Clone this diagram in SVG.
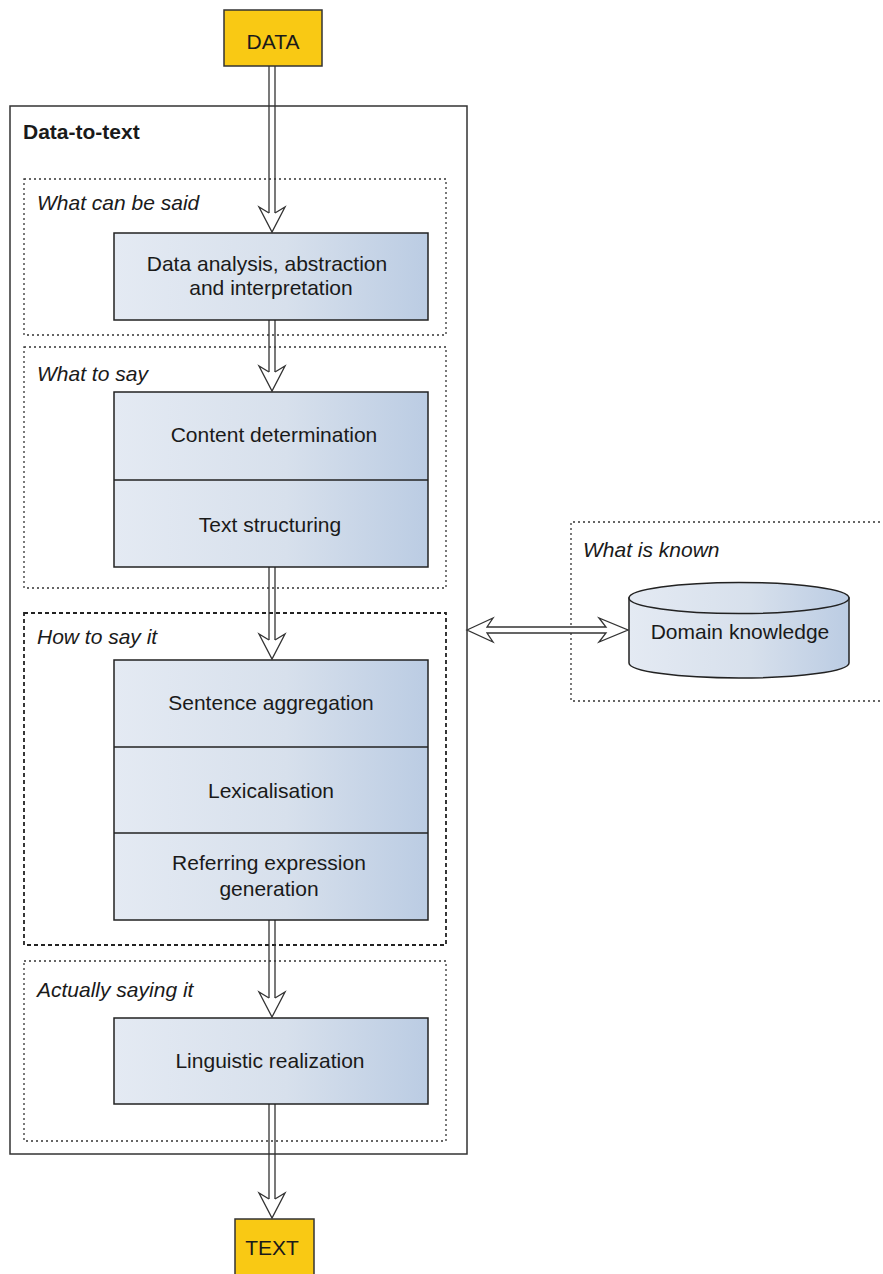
<svg xmlns="http://www.w3.org/2000/svg" width="883" height="1274" viewBox="0 0 883 1274">
<defs>
<linearGradient id="g" x1="0" y1="0" x2="1" y2="0">
<stop offset="0" stop-color="#e4eaf3"/>
<stop offset="0.55" stop-color="#d7e0ec"/>
<stop offset="1" stop-color="#bbcce3"/>
</linearGradient>
<style>
text{font-family:"Liberation Sans",Arial,sans-serif;font-size:21px;fill:#1a1a1a}
.c{text-anchor:middle}
.i{font-style:italic}
.b{font-weight:bold}
.box{fill:url(#g);stroke:#222;stroke-width:1.5}
.div{stroke:#222;stroke-width:1.5}
.term{fill:#f9c914;stroke:#333;stroke-width:1.5}
.dot{fill:none;stroke:#333;stroke-width:1.3;stroke-dasharray:2 3}
.dash{fill:none;stroke:#222;stroke-width:1.8;stroke-dasharray:4 3}
.sh{stroke:#333;stroke-width:1.3;fill:none}
.ah{fill:#fff;stroke:#333;stroke-width:1.3;stroke-linejoin:miter}
</style>
</defs>
<rect width="883" height="1274" fill="#fff"/>

<g id="outer">
<rect x="10" y="106" width="457" height="1048" fill="none" stroke="#333" stroke-width="1.5"/>
<text x="23" y="139" class="b">Data-to-text</text>
</g>

<g id="sec-said">
<rect x="24" y="179" width="422" height="156" class="dot"/>
<text x="37" y="210" class="i">What can be said</text>
</g>
<g id="sec-what">
<rect x="24" y="347" width="422" height="241" class="dot"/>
<text x="37" y="381" class="i">What to say</text>
</g>
<g id="sec-how">
<rect x="24" y="613" width="422" height="332" class="dash"/>
<text x="37" y="644" class="i">How to say it</text>
</g>
<g id="sec-actually">
<rect x="24" y="961" width="422" height="180" class="dot"/>
<text x="37" y="997" class="i">Actually saying it</text>
</g>
<g id="sec-known">
<path d="M890,522 H571 V701 H890" class="dot"/>
<text x="583" y="557" class="i">What is known</text>
</g>

<g id="connectors">
<path class="sh" d="M269,66 V213 M275,66 V213"/>
<path class="ah" d="M269,213 L259,207 L272,232 L285,207 L275,213"/>
<path class="sh" d="M269,320 V372 M275,320 V372"/>
<path class="ah" d="M269,372 L259,366 L272,391 L285,366 L275,372"/>
<path class="sh" d="M269,567 V640 M275,567 V640"/>
<path class="ah" d="M269,640 L259,634 L272,659 L285,634 L275,640"/>
<path class="sh" d="M269,920 V998 M275,920 V998"/>
<path class="ah" d="M269,998 L259,992 L272,1017 L285,992 L275,998"/>
<path class="sh" d="M269,1104 V1199 M275,1104 V1199"/>
<path class="ah" d="M269,1199 L259,1193 L272,1218 L285,1193 L275,1199"/>
<path class="ah" d="M467,630 L493,618 L487,627 L606,627 L599,618 L628,630 L599,642 L606,633 L487,633 L493,642 Z"/>
</g>

<g id="data">
<rect x="224" y="10" width="98" height="56" class="term"/>
<text x="273" y="49" class="c">DATA</text>
</g>

<g id="analysis">
<rect x="114" y="233" width="314" height="87" class="box"/>
<text x="267" y="271" class="c">Data analysis, abstraction</text>
<text x="271" y="295" class="c">and interpretation</text>
</g>

<g id="whattosay">
<rect x="114" y="392" width="314" height="175" class="box"/>
<line x1="114" y1="480" x2="428" y2="480" class="div"/>
<text x="274" y="442" class="c">Content determination</text>
<text x="270" y="532" class="c">Text structuring</text>
</g>

<g id="howtosay">
<rect x="114" y="660" width="314" height="260" class="box"/>
<line x1="114" y1="747" x2="428" y2="747" class="div"/>
<line x1="114" y1="833" x2="428" y2="833" class="div"/>
<text x="271" y="710" class="c">Sentence aggregation</text>
<text x="271" y="798" class="c">Lexicalisation</text>
<text x="269" y="870" class="c">Referring expression</text>
<text x="269" y="896" class="c">generation</text>
</g>

<g id="realization">
<rect x="114" y="1018" width="314" height="86" class="box"/>
<text x="270" y="1068" class="c">Linguistic realization</text>
</g>

<g id="domain">
<path d="M629,598 V663 A110,15 0 0 0 849,663 V598 Z" fill="url(#g)" stroke="#222" stroke-width="1.5"/>
<ellipse cx="739" cy="598" rx="110" ry="15.5" fill="url(#g)" stroke="#222" stroke-width="1.5"/>
<text x="740" y="639" class="c">Domain knowledge</text>
</g>

<g id="text">
<rect x="235" y="1219" width="79" height="60" class="term"/>
<text x="272" y="1255" class="c">TEXT</text>
</g>
</svg>
